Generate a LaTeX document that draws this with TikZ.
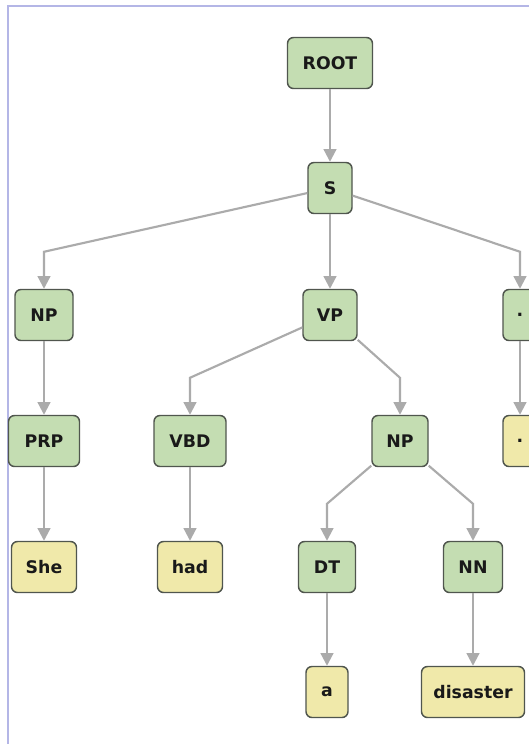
\documentclass[tikz,border=0pt]{standalone}
\usepackage{fontspec}
\setmainfont{DejaVu Sans}
\usetikzlibrary{arrows.meta}
\definecolor{phr}{HTML}{C4DDB2}
\definecolor{wrd}{HTML}{F0E9AA}
\definecolor{bord}{HTML}{50564E}
\definecolor{edg}{HTML}{ABABAB}
\definecolor{framec}{HTML}{B4B6E6}
\begin{document}
\begin{tikzpicture}[x=0.75pt,y=-0.75pt,
  box/.style={draw=bord, line width=1.1pt, rounded corners=4.5pt,
    minimum height=38.25pt, inner sep=0pt,
    font=\fontsize{13}{14}\selectfont\bfseries, text=black!90},
  phrase/.style={box, fill=phr, minimum width=#1*0.75pt},
  word/.style={box, fill=wrd, minimum width=#1*0.75pt},
  edge/.style={draw=edg, line width=1.6pt, -{Triangle[length=9.5pt,width=9.5pt]}}]
\useasboundingbox (0,0) rectangle (529,744);
\fill[white] (0,0) rectangle (529,744);
\draw[framec, line width=1.2pt] (8,744) -- (8,6) -- (529,6);

\node[phrase=85] (ROOT) at (330,63) {ROOT};
\node[phrase=44] (S) at (330,188) {S};
\node[phrase=58] (NP1) at (44,315) {NP};
\node[phrase=54] (VP) at (330,315) {VP};
\node[phrase=34] (PUN1) at (520,315) {.};
\node[phrase=71] (PRP) at (44,441) {PRP};
\node[phrase=72] (VBD) at (190,441) {VBD};
\node[phrase=56] (NP2) at (400,441) {NP};
\node[word=34] (PUN2) at (520,441) {.};
\node[word=65] (She) at (44,567) {She};
\node[word=65] (had) at (190,567) {had};
\node[phrase=57] (DT) at (327,567) {DT};
\node[phrase=59] (NN) at (473,567) {NN};
\node[word=42] (a) at (327,692) {a};
\node[word=103] (disaster) at (473,692) {disaster};

\draw[edge] (ROOT) -- (S);
\draw[edge] (S) -- ([yshift=27.75pt]NP1.north) -- (NP1.north);
\draw[edge] (S) -- (VP);
\draw[edge] (S) -- ([yshift=27.75pt]PUN1.north) -- (PUN1.north);
\draw[edge] (NP1) -- (PRP);
\draw[edge] (PRP) -- (She);
\draw[edge] (VP) -- ([yshift=27.75pt]VBD.north) -- (VBD.north);
\draw[edge] (VP) -- ([yshift=27.75pt]NP2.north) -- (NP2.north);
\draw[edge] (PUN1) -- (PUN2);
\draw[edge] (VBD) -- (had);
\draw[edge] (NP2) -- ([yshift=27.75pt]DT.north) -- (DT.north);
\draw[edge] (NP2) -- ([yshift=27.75pt]NN.north) -- (NN.north);
\draw[edge] (DT) -- (a);
\draw[edge] (NN) -- (disaster);
\end{tikzpicture}
\end{document}
